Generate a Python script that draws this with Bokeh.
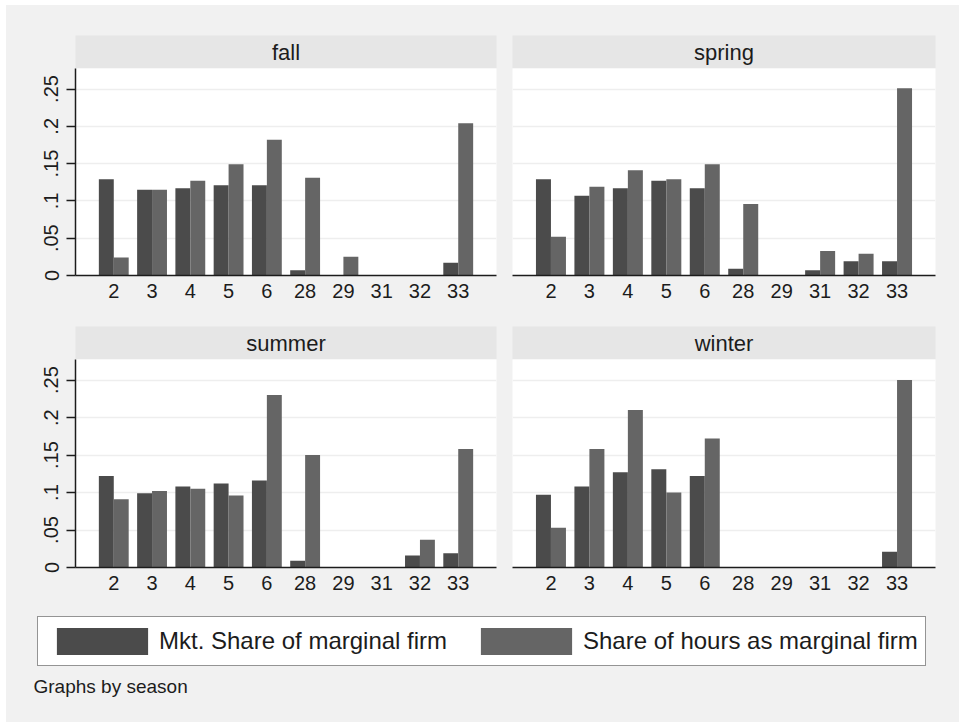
import numpy as np
from bokeh.plotting import figure
from bokeh.models import (Range1d, FixedTicker, Grid, Label, Legend, LegendItem,
                          ColumnDataSource, CustomJSTickFormatter)
from bokeh.layouts import column, row
from bokeh.embed import file_html
from bokeh.resources import INLINE

# ---------------- data ----------------
codes = ["2", "3", "4", "5", "6", "28", "29", "31", "32", "33"]
seasons = ["fall", "spring", "summer", "winter"]
series_names = ["Mkt. Share of marginal firm", "Share of hours as marginal firm"]

fall_mkt = [0.129, 0.115, 0.117, 0.121, 0.121, 0.007, 0.0, 0.0, 0.0, 0.017]
fall_hours = [0.024, 0.115, 0.127, 0.149, 0.182, 0.131, 0.025, 0.0, 0.0, 0.204]
spring_mkt = [0.129, 0.107, 0.117, 0.127, 0.117, 0.009, 0.0, 0.007, 0.019, 0.019]
spring_hours = [0.052, 0.119, 0.141, 0.129, 0.149, 0.096, 0.0, 0.033, 0.029, 0.251]
summer_mkt = [0.122, 0.099, 0.108, 0.112, 0.116, 0.009, 0.0, 0.0, 0.016, 0.019]
summer_hours = [0.091, 0.102, 0.105, 0.096, 0.230, 0.150, 0.0, 0.0, 0.037, 0.158]
winter_mkt = [0.097, 0.108, 0.127, 0.131, 0.122, 0.0, 0.0, 0.0, 0.0, 0.021]
winter_hours = [0.053, 0.158, 0.210, 0.100, 0.172, 0.0, 0.0, 0.0, 0.0, 0.250]

y_ticks = [0, 0.05, 0.1, 0.15, 0.2, 0.25]
y_tick_labels = ["0", ".05", ".1", ".15", ".2", ".25"]
note_text = "Graphs by season"

# ---------------- style ----------------
OUTER = "#f1f1f1"
STRIP = "#e6e6e6"
DARK = "#4b4b4b"
LIGHT = "#656565"
TEXT = "#1c1c1c"
GRID = "#eeeeee"
FONT = "Liberation Sans"
YMAX = 0.2775
BW = 0.39


def strip_fig(name, width, bl, br, height, bt):
    s = figure(width=width, height=height, min_border_left=bl, min_border_right=br,
               min_border_top=bt, min_border_bottom=0,
               x_range=Range1d(0, 1), y_range=Range1d(0, 1),
               x_axis_type=None, y_axis_type=None, toolbar_location=None,
               output_backend="svg", background_fill_color=STRIP,
               border_fill_color=OUTER, outline_line_color=None)
    s.add_layout(Label(x=0.5, y=0.5, text=name, text_align="center",
                       text_baseline="middle", text_font_size="22px",
                       text_font=FONT, text_color=TEXT))
    return s


def panel_fig(mkt, hrs, width, bl, br, fh, bb, left_axis):
    n = len(codes)
    xs = np.arange(1, n + 1)
    src = ColumnDataSource(dict(xd=xs - BW / 2, xl=xs + BW / 2, mkt=mkt, hrs=hrs))
    p = figure(width=width, height=fh + bb, min_border_left=bl, min_border_right=br,
               min_border_top=0, min_border_bottom=bb,
               x_range=Range1d(0, n + 1), y_range=Range1d(0, YMAX),
               y_axis_location="left" if left_axis else None,
               toolbar_location=None, output_backend="svg",
               background_fill_color="white", border_fill_color=OUTER,
               outline_line_color=None)
    p.grid.visible = False
    p.add_layout(Grid(dimension=1, ticker=FixedTicker(ticks=y_ticks),
                      grid_line_color=GRID, grid_line_width=1.5))
    p.vbar(x="xd", top="mkt", width=BW, bottom=0, source=src,
           fill_color=DARK, line_color=None)
    p.vbar(x="xl", top="hrs", width=BW, bottom=0, source=src,
           fill_color=LIGHT, line_color=None)

    xa = p.xaxis[0]
    xa.ticker = FixedTicker(ticks=[int(v) for v in xs])
    xa.formatter = CustomJSTickFormatter(args=dict(code_labels=codes),
                                         code="return code_labels[Math.round(tick) - 1] || '';")
    xa.axis_line_color = TEXT
    xa.axis_line_width = 1.5
    xa.major_tick_out = 0
    xa.major_tick_in = 0
    xa.minor_tick_out = 0
    xa.minor_tick_in = 0
    xa.major_label_standoff = 8
    xa.major_label_text_font = FONT
    xa.major_label_text_font_size = "20px"
    xa.major_label_text_color = TEXT

    if left_axis:
        ya = p.yaxis[0]
        ya.ticker = FixedTicker(ticks=y_ticks)
        ya.formatter = CustomJSTickFormatter(
            args=dict(tvals=y_ticks, tlabels=y_tick_labels),
            code="for (let i = 0; i < tvals.length; i++) { if (Math.abs(tvals[i] - tick) < 1e-9) return tlabels[i]; } return '';")
        ya.axis_line_color = TEXT
        ya.axis_line_width = 1.5
        ya.major_tick_out = 9
        ya.major_tick_in = 0
        ya.major_tick_line_color = TEXT
        ya.major_tick_line_width = 1.5
        ya.minor_tick_out = 0
        ya.minor_tick_in = 0
        ya.major_label_orientation = "vertical"
        ya.major_label_standoff = 8
        ya.major_label_text_font = FONT
        ya.major_label_text_font_size = "20px"
        ya.major_label_text_color = TEXT
    return p


# geometry (the whole block sits 6px from the left, 5px from the top)
LW, LBL, LBR = 498, 69, 8      # left column
RW, RBL, RBR = 455, 8, 24      # right column

s_fall = strip_fig(seasons[0], LW, LBL, LBR, 63, 30)
s_spring = strip_fig(seasons[1], RW, RBL, RBR, 63, 30)
p_fall = panel_fig(fall_mkt, fall_hours, LW, LBL, LBR, 207, 37, True)
p_spring = panel_fig(spring_mkt, spring_hours, RW, RBL, RBR, 207, 37, False)

s_summer = strip_fig(seasons[2], LW, LBL, LBR, 47, 14)
s_winter = strip_fig(seasons[3], RW, RBL, RBR, 47, 14)
p_summer = panel_fig(summer_mkt, summer_hours, LW, LBL, LBR, 208, 38, True)
p_winter = panel_fig(winter_mkt, winter_hours, RW, RBL, RBR, 208, 38, False)

# legend area
LH = 117
lf = figure(width=LW + RW, height=LH, min_border_left=0, min_border_right=0,
            min_border_top=0, min_border_bottom=0,
            x_range=Range1d(0, 1), y_range=Range1d(0, 1),
            x_axis_type=None, y_axis_type=None, toolbar_location=None,
            output_backend="svg", background_fill_color=OUTER,
            border_fill_color=OUTER, outline_line_color=None)
proxy = ColumnDataSource(dict(x=np.array([np.nan]), top=np.array([np.nan])))
r1 = lf.vbar(x="x", top="top", width=0.1, source=proxy, fill_color=DARK, line_color=None)
r2 = lf.vbar(x="x", top="top", width=0.1, source=proxy, fill_color=LIGHT, line_color=None)
legend = Legend(items=[LegendItem(label=series_names[0], renderers=[r1]),
                       LegendItem(label=series_names[1], renderers=[r2])],
                orientation="horizontal", location=(31, 56),
                glyph_width=114, glyph_height=34, label_standoff=0,
                label_width=310, label_height=34, spacing=0, padding=7, margin=0,
                border_line_color="#2a2a2a", border_line_width=1.5,
                background_fill_color="white", background_fill_alpha=1.0,
                label_text_font=FONT, label_text_font_size="24px",
                label_text_color=TEXT)
lf.add_layout(legend)
lf.add_layout(Label(x=27, y=36, x_units="screen", y_units="screen", text=note_text,
                    text_align="left", text_baseline="middle",
                    text_font=FONT, text_font_size="19px", text_color=TEXT))

layout = column(row(s_fall, s_spring), row(p_fall, p_spring),
                row(s_summer, s_winter), row(p_summer, p_winter), lf,
                margin=(5, 0, 0, 6),
                styles={"background-color": OUTER})

with open("out.html", "w") as f:
    f.write(file_html(layout, INLINE))
